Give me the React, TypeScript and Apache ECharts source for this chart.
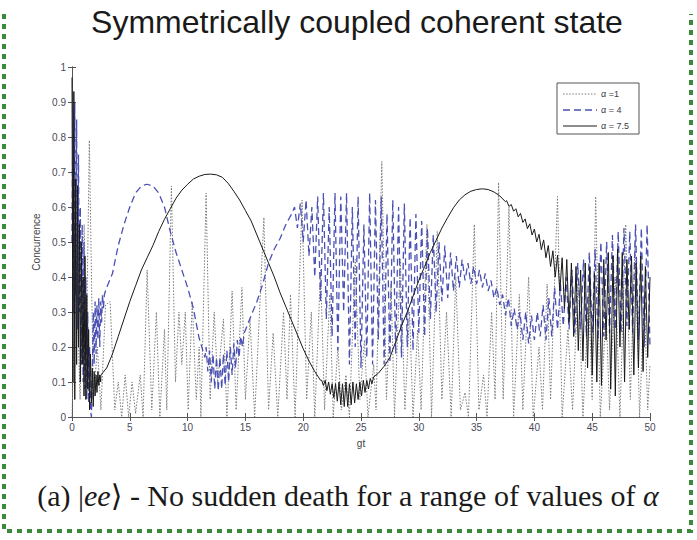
import React, { useEffect, useRef } from "react";
import * as echarts from "echarts";

// ---- α = 7.5 (solid black) ----
// rapid onset, gt 0 .. 2.48, step 0.08
const blackOnset = [
  0.97, 0.1, 0.93, 0.05, 0.68, 0.15, 0.66, 0.2, 0.55, 0.1,
  0.5, 0.15, 0.4, 0.06, 0.46, 0.05, 0.35, 0.08, 0.25, 0.02,
  0.18, 0.04, 0.14, 0.03, 0.13, 0.06, 0.12, 0.07, 0.13, 0.09,
  0.12, 0.1,
];
// first slow arch, gt 2.5 .. 21.5, step 0.5
const blackArch1 = [
  0.12, 0.14, 0.18, 0.23, 0.28, 0.33, 0.375, 0.42, 0.455, 0.49,
  0.53, 0.565, 0.595, 0.625, 0.648, 0.665, 0.68, 0.688, 0.693, 0.694,
  0.692, 0.685, 0.668, 0.645, 0.62, 0.59, 0.56, 0.52, 0.48, 0.44,
  0.4, 0.355, 0.315, 0.275, 0.235, 0.195, 0.16, 0.13, 0.105,
];
// ripple at the minimum, gt 21.6 .. 26.1, step 0.15
const blackDip = [
  0.105, 0.09, 0.105, 0.075, 0.1, 0.065, 0.095, 0.055, 0.095, 0.045,
  0.1, 0.035, 0.095, 0.03, 0.1, 0.03, 0.095, 0.035, 0.1, 0.04,
  0.095, 0.05, 0.1, 0.06, 0.105, 0.07, 0.105, 0.08, 0.11, 0.095,
  0.115,
];
// second arch, gt 26.5 .. 37.5, step 0.5
const blackArch2 = [
  0.125, 0.145, 0.17, 0.215, 0.26, 0.3, 0.345, 0.39, 0.43, 0.47,
  0.505, 0.54, 0.57, 0.598, 0.62, 0.635, 0.645, 0.65, 0.652, 0.65,
  0.643, 0.632, 0.615,
];
// growing oscillation, gt 37.6 .. 50, step 0.2
const blackTail = [
  0.618, 0.602, 0.607, 0.588, 0.595, 0.572, 0.582, 0.556, 0.566, 0.538,
  0.552, 0.52, 0.537, 0.5, 0.522, 0.478, 0.506, 0.455, 0.49, 0.43,
  0.475, 0.4, 0.462, 0.36, 0.455, 0.31, 0.45, 0.27, 0.44, 0.23,
  0.43, 0.19, 0.42, 0.16, 0.44, 0.14, 0.43, 0.12, 0.41, 0.1,
  0.44, 0.09, 0.45, 0.22, 0.47, 0.08, 0.46, 0.06, 0.48, 0.2,
  0.47, 0.1, 0.45, 0.25, 0.46, 0.12, 0.44, 0.14, 0.46, 0.13,
  0.43, 0.17, 0.4,
];

// ---- α = 4 (dashed blue) ----
// onset, gt 0 .. 2.8, step 0.08
const blueOnset = [
  0.5, 0.88, 0.3, 0.9, 0.35, 0.85, 0.25, 0.75, 0.3, 0.6,
  0.15, 0.55, 0.1, 0.5, 0.08, 0.4, 0.05, 0.3, 0.04, 0.2,
  0.02, 0.0, 0.12, 0.3, 0.15, 0.33, 0.18, 0.32, 0.22, 0.34,
  0.2, 0.33, 0.27, 0.35, 0.31, 0.35,
];
// first hump, gt 3 .. 11.5, step 0.5
const blueHump = [
  0.37, 0.41, 0.49, 0.55, 0.6, 0.64, 0.66, 0.665, 0.66, 0.64,
  0.6, 0.53, 0.47, 0.42, 0.37, 0.31, 0.225, 0.17,
];
// ripple at the minimum, gt 11.6 .. 14.9, step 0.15
const blueDip = [
  0.2, 0.13, 0.19, 0.1, 0.18, 0.08, 0.17, 0.075, 0.17, 0.08,
  0.18, 0.09, 0.19, 0.1, 0.2, 0.12, 0.21, 0.14, 0.22, 0.17,
  0.23, 0.2, 0.24,
];
// recovery, gt 15.5 .. 19, step 0.5
const blueRise = [0.29, 0.33, 0.38, 0.44, 0.48, 0.51, 0.55, 0.58];
// oscillating band, gt 19.25 .. 50, step 0.25
const blueBand = [
  0.6, 0.54, 0.61, 0.5, 0.62, 0.46, 0.6, 0.4, 0.63, 0.33,
  0.64, 0.28, 0.6, 0.23, 0.64, 0.19, 0.63, 0.3, 0.64, 0.15,
  0.6, 0.2, 0.63, 0.14, 0.55, 0.17, 0.64, 0.15, 0.62, 0.22,
  0.63, 0.15, 0.58, 0.16, 0.62, 0.18, 0.6, 0.17, 0.61, 0.2,
  0.57, 0.19, 0.58, 0.24, 0.56, 0.23, 0.54, 0.28, 0.52, 0.3,
  0.5, 0.33, 0.49, 0.34, 0.47, 0.36, 0.46, 0.37, 0.45, 0.39,
  0.44, 0.38, 0.43, 0.38, 0.42, 0.37, 0.41, 0.36, 0.39, 0.34,
  0.37, 0.32, 0.35, 0.29, 0.34, 0.26, 0.31, 0.25, 0.3, 0.22,
  0.3, 0.21, 0.29, 0.22, 0.3, 0.23, 0.32, 0.22, 0.34, 0.23,
  0.37, 0.25, 0.38, 0.26, 0.4, 0.25, 0.42, 0.24, 0.44, 0.25,
  0.45, 0.23, 0.47, 0.24, 0.48, 0.22, 0.5, 0.23, 0.5, 0.24,
  0.52, 0.25, 0.53, 0.24, 0.54, 0.26, 0.53, 0.24, 0.55, 0.22,
  0.54, 0.2, 0.55, 0.2,
];

// ---- α = 1 (dotted grey): [gt, concurrence] turning points ----
const greyPoints: [number, number][] = [
  [0, 0.0], [0.35, 0.45], [0.7, 0.05], [1.05, 0.55], [1.25, 0.2], [1.5, 0.79],
  [1.85, 0.05], [2.2, 0.2], [2.5, 0.02], [2.9, 0.32], [3.3, 0.33], [3.7, 0.02],
  [4.0, 0.1], [4.3, 0.0], [4.6, 0.12], [4.9, 0.0], [5.2, 0.1], [5.5, 0.01],
  [5.9, 0.12], [6.15, 0.0], [6.5, 0.42], [6.9, 0.02], [7.3, 0.3], [7.6, 0.0],
  [8.0, 0.25], [8.2, 0.02], [8.6, 0.66], [8.95, 0.1], [9.25, 0.3], [9.5, 0.15],
  [9.8, 0.3], [10.05, 0.02], [10.4, 0.33], [10.75, 0.05], [11.0, 0.2], [11.15, 0.0],
  [11.6, 0.64], [11.95, 0.05], [12.3, 0.3], [12.6, 0.1], [13.1, 0.28], [13.4, 0.0],
  [13.85, 0.36], [14.2, 0.02], [14.7, 0.37], [15.0, 0.05], [15.4, 0.28], [15.8, 0.0],
  [16.6, 0.57], [17.0, 0.02], [17.4, 0.24], [17.8, 0.0], [18.3, 0.3], [18.6, 0.05],
  [18.9, 0.35], [19.3, 0.0], [19.9, 0.62], [20.3, 0.05], [20.7, 0.3], [21.0, 0.0],
  [21.5, 0.42], [21.85, 0.02], [22.3, 0.35], [22.6, 0.0], [23.0, 0.2], [23.3, 0.02],
  [23.7, 0.12], [24.0, 0.0], [24.5, 0.45], [24.9, 0.05], [25.3, 0.22], [25.6, 0.0],
  [26.1, 0.15], [26.3, 0.02], [26.8, 0.73], [27.2, 0.05], [27.6, 0.38], [27.9, 0.0],
  [28.4, 0.45], [28.8, 0.02], [29.2, 0.3], [29.5, 0.0], [29.9, 0.25], [30.2, 0.02],
  [30.7, 0.55], [31.1, 0.0], [31.6, 0.53], [32.0, 0.05], [32.4, 0.3], [32.8, 0.0],
  [33.2, 0.4], [33.6, 0.02], [34.0, 0.07], [34.3, 0.0], [34.8, 0.55], [35.2, 0.02],
  [35.6, 0.12], [35.9, 0.0], [36.3, 0.3], [36.6, 0.05], [36.9, 0.67], [37.3, 0.05],
  [37.8, 0.6], [38.2, 0.0], [38.7, 0.35], [39.0, 0.02], [39.5, 0.4], [39.9, 0.0],
  [40.4, 0.2], [40.7, 0.02], [41.1, 0.38], [41.4, 0.05], [42.0, 0.63], [42.4, 0.0],
  [42.9, 0.25], [43.3, 0.02], [43.8, 0.4], [44.2, 0.0], [44.7, 0.35], [45.0, 0.05],
  [45.3, 0.63], [45.7, 0.0], [46.2, 0.3], [46.5, 0.02], [47.0, 0.4], [47.4, 0.0],
  [47.9, 0.55], [48.3, 0.05], [48.7, 0.5], [49.1, 0.0], [49.5, 0.35], [49.8, 0.02],
  [50, 0.15],
];

const seriesNames = ["α =1", "α = 4", "α = 7.5"];
const seriesColors = ["#7a7a7a", "#4a50b4", "#1a1a1a"];
const seriesDash: (number[] | null)[] = [[1.5, 1.6], [7, 4], null];
const seriesWidths = [1, 1.3, 1];

const seg = (start: number, step: number, values: number[]): [number, number][] =>
  values.map((v, i) => [Number((start + i * step).toFixed(3)), v]);

const blackData = [
  ...seg(0, 0.08, blackOnset),
  ...seg(2.5, 0.5, blackArch1),
  ...seg(21.6, 0.15, blackDip),
  ...seg(26.5, 0.5, blackArch2),
  ...seg(37.6, 0.2, blackTail),
];

const blueData = [
  ...seg(0, 0.08, blueOnset),
  ...seg(3, 0.5, blueHump),
  ...seg(11.6, 0.15, blueDip),
  ...seg(15.5, 0.5, blueRise),
  ...seg(19.25, 0.25, blueBand),
];

const seriesData = [greyPoints, blueData, blackData];

const tickFont = "'Liberation Sans Narrow', 'Liberation Sans', Arial, sans-serif";
const axisColor = "#555";

// legend box (drawn as graphics so each sample keeps its own dash pattern)
const legendBox = { x: 557, y: 83, w: 82, h: 51 };
const legendRowGap = 16;

function legendGraphics() {
  const items: any[] = [
    {
      type: "rect",
      shape: { x: legendBox.x, y: legendBox.y, width: legendBox.w, height: legendBox.h },
      style: { fill: "#fff", stroke: "#555", lineWidth: 1 },
      z: 10,
    },
  ];
  seriesNames.forEach((name, i) => {
    const cy = legendBox.y + 11 + i * legendRowGap;
    items.push({
      type: "line",
      shape: { x1: legendBox.x + 6, y1: cy, x2: legendBox.x + 40, y2: cy },
      style: {
        stroke: seriesColors[i],
        lineWidth: seriesWidths[i],
        lineDash: seriesDash[i] || undefined,
      },
      z: 11,
    });
    items.push({
      type: "text",
      x: legendBox.x + 44,
      y: cy,
      style: {
        text: name,
        fontSize: 9,
        fontFamily: tickFont,
        fill: "#3a3a4a",
        verticalAlign: "middle",
      },
      z: 11,
    });
  });
  return items;
}

export default function App() {
  const ref = useRef<HTMLDivElement>(null);

  useEffect(() => {
    if (!ref.current) return;
    const chart = echarts.init(ref.current, undefined, { renderer: "svg" });

    const frameAxis = {
      axisLine: { show: true, lineStyle: { color: axisColor, width: 1 } },
      axisTick: { show: true, inside: true, length: 4, lineStyle: { color: axisColor } },
      axisLabel: { show: false },
      splitLine: { show: false },
    };

    chart.setOption({
      animation: false,
      backgroundColor: "#ffffff",
      grid: { left: 72, right: 47, top: 67, bottom: 123, containLabel: false },
      legend: { show: false, data: seriesNames },
      xAxis: [
        {
          type: "value",
          min: 0,
          max: 50,
          interval: 5,
          position: "bottom",
          name: "gt",
          nameLocation: "middle",
          nameGap: 21,
          nameTextStyle: { fontSize: 10, color: "#444", fontFamily: tickFont },
          axisLine: { show: true, lineStyle: { color: axisColor, width: 1 } },
          axisTick: { show: true, inside: true, length: 4, lineStyle: { color: axisColor } },
          axisLabel: { fontSize: 10, color: "#4a4a5a", margin: 5, fontFamily: tickFont },
          splitLine: { show: false },
        },
        { type: "value", min: 0, max: 50, interval: 5, position: "top", ...frameAxis },
      ],
      yAxis: [
        {
          type: "value",
          min: 0,
          max: 1,
          interval: 0.1,
          position: "left",
          name: "Concurrence",
          nameLocation: "middle",
          nameGap: 20,
          nameRotate: 90,
          nameTextStyle: { fontSize: 10, color: "#444", fontFamily: tickFont },
          axisLine: { show: true, lineStyle: { color: axisColor, width: 1 } },
          axisTick: { show: true, inside: true, length: 4, lineStyle: { color: axisColor } },
          axisLabel: { fontSize: 10, color: "#4a4a5a", margin: 6, fontFamily: tickFont },
          splitLine: { show: false },
        },
        { type: "value", min: 0, max: 1, interval: 0.1, position: "right", ...frameAxis },
      ],
      series: seriesNames.map((name, i) => ({
        name,
        type: "line",
        data: seriesData[i],
        showSymbol: false,
        symbol: "none",
        lineStyle: {
          color: seriesColors[i],
          width: seriesWidths[i],
          type: seriesDash[i] || "solid",
        },
        itemStyle: { color: seriesColors[i] },
        z: i + 1,
      })),
      graphic: [
        {
          type: "polyline",
          shape: { points: [[4, 14], [4, 531], [691, 531], [691, 14]] },
          style: { stroke: "#3b8a3b", lineWidth: 4, lineDash: [5, 5], fill: "none" },
          silent: true,
        },
        {
          type: "text",
          x: 357,
          y: 22,
          style: {
            text: "Symmetrically coupled coherent state",
            fontSize: 32,
            fontFamily: "'Liberation Sans', Arial, sans-serif",
            fill: "#1a1a1a",
            align: "center",
            verticalAlign: "middle",
          },
        },
        {
          type: "text",
          x: 348,
          y: 495,
          style: {
            text: "{n|(a) |}{i|ee}{n|⟩ - No sudden death for a range of values of }{i|α}",
            align: "center",
            verticalAlign: "middle",
            rich: {
              n: { fontSize: 30, fontFamily: "'Liberation Serif', 'DejaVu Serif', serif", fill: "#1a1a1a" },
              i: { fontSize: 30, fontStyle: "italic", fontFamily: "'Liberation Serif', 'DejaVu Serif', serif", fill: "#1a1a1a" },
            },
          },
        },
        ...legendGraphics(),
      ],
    });

    return () => chart.dispose();
  }, []);

  return (
    <div
      ref={ref}
      style={{ position: "fixed", left: 0, top: 0, width: 697, height: 540, background: "#fff" }}
    />
  );
}
